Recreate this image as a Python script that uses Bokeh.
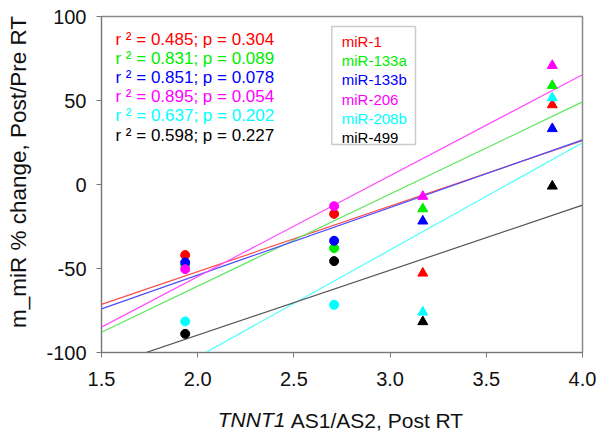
import numpy as np
from bokeh.plotting import figure
from bokeh.models import (Label, BoxAnnotation, FixedTicker, PrintfTickFormatter,
                          Range1d, LinearAxis)
from bokeh.embed import file_html
from bokeh.resources import INLINE

# ---- data ----
x_vals = [1.935, 2.709, 3.17, 3.843]
markers = ["circle", "circle", "triangle", "triangle"]
series_names = ["miR-1", "miR-133a", "miR-133b", "miR-206", "miR-208b", "miR-499"]
mir_1 = [-42.0, -17.5, -52.8, 47.4]
mir_133a = [-48.0, -37.9, -14.5, 58.9]
mir_133b = [-46.4, -33.5, -21.8, 33.2]
mir_206 = [-50.4, -12.9, -7.1, 70.8]
mir_208b = [-81.5, -71.6, -76.0, 51.6]
mir_499 = [-88.9, -45.6, -81.7, -1.0]
series_values = [mir_1, mir_133a, mir_133b, mir_206, mir_208b, mir_499]
stats_text = [
    "r ² = 0.485; p = 0.304",
    "r ² = 0.831; p = 0.089",
    "r ² = 0.851; p = 0.078",
    "r ² = 0.895; p = 0.054",
    "r ² = 0.637; p = 0.202",
    "r ² = 0.598; p = 0.227",
]
colors = ["#ff0000", "#00ee00", "#0000ff", "#ff00ff", "#00ffff", "#000000"]
line_colors = ["#ff4d4d", "#5ee65e", "#4d4dff", "#ff4dff", "#4dffff", "#555555"]
x_ticks = [1.5, 2.0, 2.5, 3.0, 3.5, 4.0]
y_ticks = [-100, -50, 0, 50, 100]
x_min, x_max = 1.5, 4.0
y_min, y_max = -100, 100
x_title_italic = "TNNT1"
x_title_rest = "AS1/AS2, Post RT"
y_title = "m_miR % change, Post/Pre RT"

FONT = "Liberation Sans"
NBSP = "\u00a0"

p = figure(width=596, height=436, output_backend="svg", toolbar_location=None,
           x_range=Range1d(x_min, x_max), y_range=Range1d(y_min, y_max),
           min_border_left=101, min_border_right=14, min_border_top=16, min_border_bottom=84)
p.grid.visible = False
p.outline_line_color = "#8a8a8a"
p.outline_line_width = 1.5
p.background_fill_color = "white"
p.border_fill_color = "white"

for ax in (p.xaxis[0], p.yaxis[0]):
    ax.axis_line_color = "#777777"
    ax.major_tick_line_color = "#777777"
    ax.major_tick_in = 0
    ax.major_tick_out = 5
    ax.minor_tick_line_color = None
    ax.major_label_text_font = FONT
    ax.major_label_text_font_size = "20px"
    ax.major_label_text_color = "#111111"
p.xaxis.ticker = FixedTicker(ticks=x_ticks)
p.yaxis.ticker = FixedTicker(ticks=y_ticks)
p.xaxis.formatter = PrintfTickFormatter(format="%.1f")
p.yaxis.formatter = PrintfTickFormatter(format="%d")
p.xaxis.major_label_standoff = 14
p.yaxis.major_label_standoff = 10


def xd(px):
    return x_min + (px - 101) / 193.0


def yd(py):
    return (184 - py) / 1.68


def label_axis(text, standoff, size, style="normal"):
    return LinearAxis(ticker=FixedTicker(ticks=[]),
                      axis_label=text, axis_label_standoff=standoff,
                      axis_label_text_font=FONT, axis_label_text_font_size=size,
                      axis_label_text_font_style=style, axis_label_text_color="#111111",
                      axis_line_color=None, major_tick_line_color=None,
                      minor_tick_line_color=None, major_tick_out=0, major_tick_in=0,
                      minor_tick_out=0, minor_tick_in=0)


# x title: italic gene name and the rest, sharing one row (padding keeps the
# two pieces side by side, both centred on the frame)
p.add_layout(label_axis(x_title_italic + NBSP * 31, 19, "21px", "italic"), "below")
p.add_layout(label_axis(NBSP * 12 + x_title_rest, -25, "21px"), "below")
# y title
p.add_layout(label_axis(NBSP * 4 + y_title, 13, "22.5px"), "left")

# regression lines
xl = np.array([x_min, x_max])
for vals, lc in zip(series_values, line_colors):
    slope, icpt = np.polyfit(x_vals, vals, 1)
    p.line(xl, slope * xl + icpt, line_color=lc, line_width=1.2)

# points
for vals, c in zip(series_values, colors):
    for xv, yv, m in zip(x_vals, vals, markers):
        p.scatter([xv], [yv], marker=m, size=9 if m == "circle" else 10,
                  fill_color=c, line_color=c)

# stats text
for i, (t, c) in enumerate(zip(stats_text, colors)):
    p.add_layout(Label(x=xd(115), y=yd(38.5 + 19.2 * i), text=t, text_color=c,
                       text_font=FONT, text_font_size="17px",
                       text_baseline="middle", text_align="left"))

# legend box
p.add_layout(BoxAnnotation(left=xd(332), right=xd(416), top=yd(26), bottom=yd(144),
                           fill_color="white", fill_alpha=1.0,
                           line_color="#555555", line_width=1.5))
for i, (n, c) in enumerate(zip(series_names, colors)):
    p.add_layout(Label(x=xd(342), y=yd(41 + 19.2 * i), text=n, text_color=c,
                       text_font=FONT, text_font_size="15px",
                       text_baseline="middle", text_align="left"))

open("out.html", "w").write(file_html(p, INLINE))
